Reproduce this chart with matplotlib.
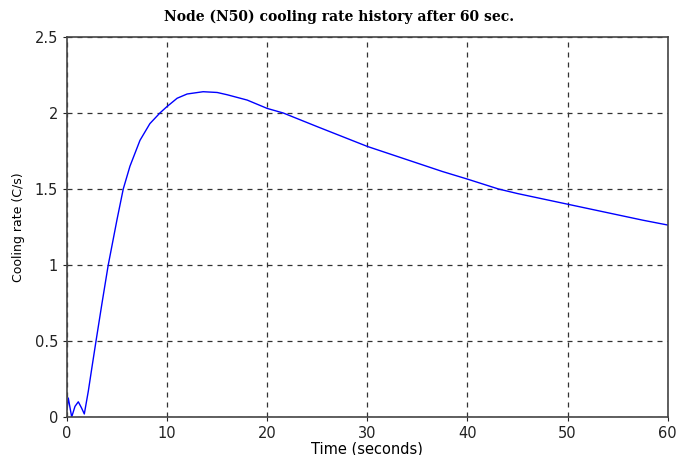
import matplotlib
matplotlib.use("Agg")
import matplotlib.pyplot as plt

time_s = [0, 0.13, 0.47, 0.8, 1.13, 1.45, 1.73, 2.13, 2.5, 2.9, 3.5, 4.12, 5.0, 5.62,
          6.29, 7.29, 8.28, 9.28, 9.95, 11, 12, 13.6, 15, 16, 18, 20, 21.6, 25, 27.5,
          30, 32.5, 35, 37.5, 40, 43.1, 45, 47.5, 50, 52.5, 55, 57.5, 60]
rate = [0.05, 0.125, 0.0, 0.07, 0.1, 0.06, 0.02, 0.17, 0.33, 0.5, 0.75, 1.0, 1.3, 1.5,
        1.65, 1.82, 1.93, 2.0, 2.04, 2.097, 2.125, 2.14, 2.135, 2.12, 2.085, 2.03, 2.0,
        1.91, 1.845, 1.78, 1.725, 1.67, 1.615, 1.565, 1.5, 1.47, 1.435, 1.40, 1.365,
        1.33, 1.295, 1.263]
xticks = [0, 10, 20, 30, 40, 50, 60]
yticks = [0, 0.5, 1, 1.5, 2, 2.5]
ytick_labels = ["0", "0.5", "1", "1.5", "2", "2.5"]

fig = plt.figure(figsize=(6.78, 4.55), dpi=100)
ax = fig.add_axes([0.0988, 0.0835, 0.886, 0.8352])
ax.plot(time_s, rate, color=(0, 0, 1), linewidth=1.0)
ax.set_xlim(0, 60)
ax.set_ylim(0, 2.5)
ax.set_xticks(xticks)
ax.set_yticks(yticks)
ax.set_yticklabels(ytick_labels)
ax.grid(True, color="#333333", linestyle=(0, (4, 4)), linewidth=0.9)
for s in ax.spines.values():
    s.set_color("#444444")
    s.set_linewidth(1.2)
ax.tick_params(direction="out", length=3, labelsize=10.5, colors="#222222")
ax.set_xlabel("Time (seconds)", fontsize=10.5, labelpad=0)
ax.set_ylabel("Cooling rate (C/s)", fontsize=9, labelpad=7)
fig.text(0.5, 0.964, "Node (N50) cooling rate history after 60 sec.",
         ha="center", va="center", fontsize=10, fontweight="bold", family="DejaVu Serif")
fig.savefig("out.png", dpi=100, facecolor="white")
